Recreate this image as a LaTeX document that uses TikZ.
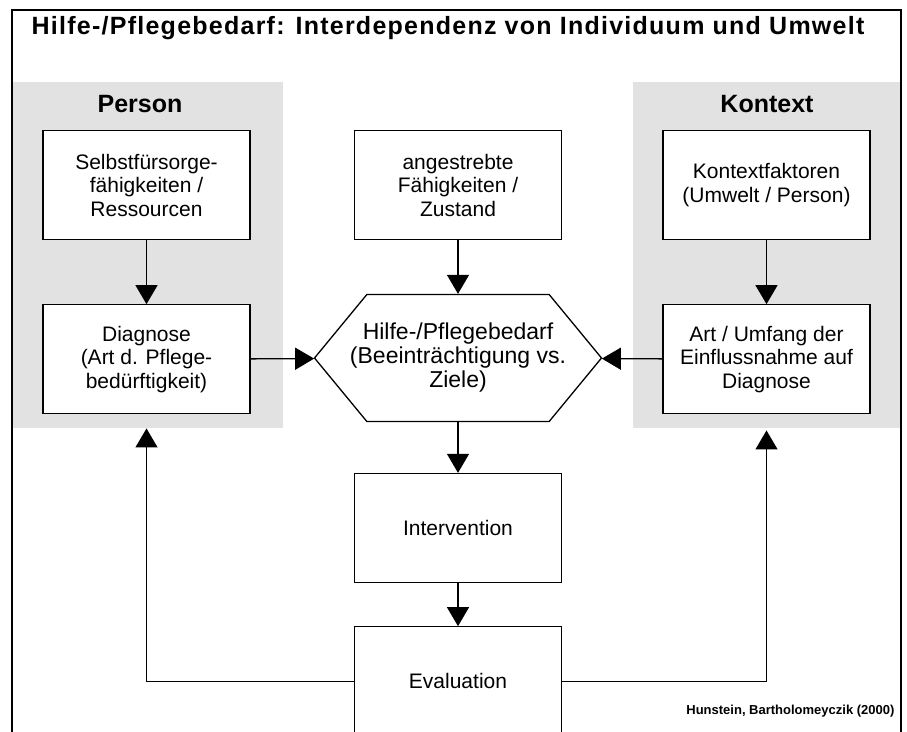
\documentclass[tikz,border=0pt]{standalone}
\usepackage{fontspec}
\setmainfont{Liberation Sans}
\usepackage{tikz}
\usetikzlibrary{shapes.symbols, arrows.meta, positioning}
\definecolor{mydark}{RGB}{0,0,0}
\definecolor{mystipple}{RGB}{226,226,226}
\tikzset{
  block/.style={rectangle, draw=mydark, fill=white,
    minimum width=207pt, minimum height=109pt, align=center,
    font=\fontsize{21}{23.5}\selectfont, line width=1.3pt},
  hexnode/.style={signal, signal to=west and east, signal pointer angle=101,
    draw=mydark, fill=white, minimum width=287pt, minimum height=127pt,
    inner sep=0pt, line width=1.3pt},
  hextext/.style={align=center, font=\fontsize{23}{24}\selectfont},
  zone/.style={fill=mystipple, draw=none},
  heading/.style={font=\fontsize{25}{28}\selectfont\bfseries},
  arrow/.style={-{Triangle[length=19pt,width=22pt]}, line width=1.3pt, color=mydark}
}

\begin{document}
\begin{tikzpicture}[x=1pt, y=-1pt]
  \useasboundingbox (0,0) rectangle (907,731);
  % stippled zones and outer frame
  \fill[zone] (12,82) rectangle (283,428);
  \fill[zone] (633,82) rectangle (901,428);
  \draw[line width=2pt, color=mydark] (12,745) |- (901,10) -- (901,745);

  \node[heading] (titel) at (448,28) {\addfontfeature{LetterSpace=5}Hilfe-/Pflegebedarf: Interdependenz von Individuum und Umwelt};
  \node[heading] (person) at (140,104) {Person};
  \node[heading] (kontexttitel) at (767,104) {Kontext};

  \node[block] (selbst) at (146.5,185) {Selbstfürsorge-\\fähigkeiten /\\Ressourcen};
  \node[block, below=64pt of selbst] (diag) {Diagnose\\(Art d. Pflege-\\bedürftigkeit)};
  \node[block] (ziel) at (458,185) {angestrebte\\Fähigkeiten /\\Zustand};
  \node[block] (kontext) at (766.5,185) {Kontextfaktoren\\(Umwelt / Person)};
  \node[block, below=64pt of kontext] (art) {Art / Umfang der\\Einflussnahme auf\\Diagnose};
  \node[hexnode, label={[hextext]center:{Hilfe-/Pflegebedarf\\(Beeinträchtigung vs.\\Ziele)}}] (bedarf) at (458,358) {};
  \node[block] (interv) at (458,528) {Intervention};
  \node[block, below=43pt of interv] (eval) {Evaluation};
  \node[font=\fontsize{13}{15}\selectfont\bfseries, anchor=east] (quelle) at (898,711) {Hunstein, Bartholomeyczik (2000)};

  \draw[arrow] (selbst) -- (diag);
  \draw[arrow] (ziel) -- (bedarf);
  \draw[arrow] (kontext) -- (art);
  \draw[arrow] (diag) -- (bedarf);
  \draw[arrow] (art) -- (bedarf);
  \draw[arrow] (bedarf) -- (interv);
  \draw[arrow] (interv) -- (eval);
  \draw[arrow, shorten >=14pt] (eval.west) -| (diag.south);
  \draw[arrow, shorten >=16pt] (eval.east) -| (art.south);
\end{tikzpicture}
\end{document}
